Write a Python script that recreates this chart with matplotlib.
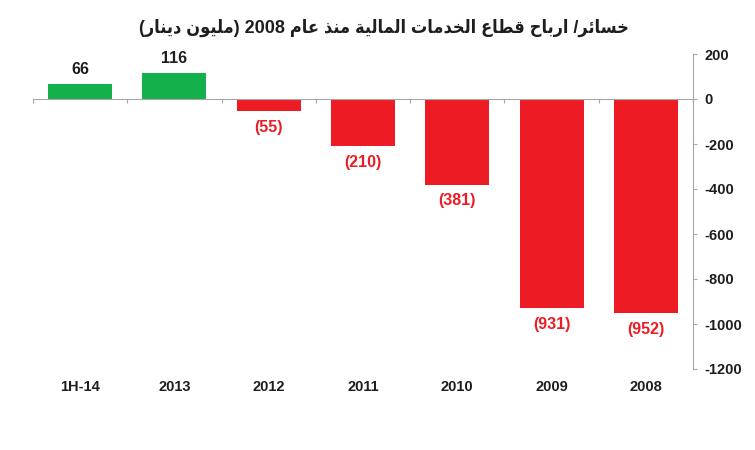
import matplotlib
matplotlib.use('Agg')
import matplotlib.pyplot as plt
import matplotlib.transforms as mtransforms
import numpy as np

categories = ['1H-14', '2013', '2012', '2011', '2010', '2009', '2008']
values = [66, 116, -55, -210, -381, -931, -952]
yticks = [200, 0, -200, -400, -600, -800, -1000, -1200]
title = 'خسائر/ ارباح قطاع الخدمات المالية منذ عام 2008 (مليون دينار)'

GREEN = '#13b04b'
RED = '#ed1c24'
DARK = '#1e1e1e'

# arabic presentation forms: isolated, final, initial, medial
FORMS = {
    'ا': ('\uFE8D', '\uFE8E', None, None),
    'ب': ('\uFE8F', '\uFE90', '\uFE91', '\uFE92'),
    'ة': ('\uFE93', '\uFE94', None, None),
    'ت': ('\uFE95', '\uFE96', '\uFE97', '\uFE98'),
    'ح': ('\uFEA1', '\uFEA2', '\uFEA3', '\uFEA4'),
    'خ': ('\uFEA5', '\uFEA6', '\uFEA7', '\uFEA8'),
    'د': ('\uFEA9', '\uFEAA', None, None),
    'ذ': ('\uFEAB', '\uFEAC', None, None),
    'ر': ('\uFEAD', '\uFEAE', None, None),
    'س': ('\uFEB1', '\uFEB2', '\uFEB3', '\uFEB4'),
    'ط': ('\uFEC1', '\uFEC2', '\uFEC3', '\uFEC4'),
    'ع': ('\uFEC9', '\uFECA', '\uFECB', '\uFECC'),
    'ق': ('\uFED5', '\uFED6', '\uFED7', '\uFED8'),
    'ل': ('\uFEDD', '\uFEDE', '\uFEDF', '\uFEE0'),
    'م': ('\uFEE1', '\uFEE2', '\uFEE3', '\uFEE4'),
    'ن': ('\uFEE5', '\uFEE6', '\uFEE7', '\uFEE8'),
    'و': ('\uFEED', '\uFEEE', None, None),
    'ي': ('\uFEF1', '\uFEF2', '\uFEF3', '\uFEF4'),
    'ئ': ('\uFE89', '\uFE8A', '\uFE8B', '\uFE8C'),
}
MIRROR = {'(': ')', ')': '('}


def shape(text):
    # contextual forms in logical order
    chars = []
    for i, ch in enumerate(text):
        if ch not in FORMS:
            chars.append(ch)
            continue
        iso, fin, ini, med = FORMS[ch]
        prev = text[i - 1] if i > 0 else ''
        nxt = text[i + 1] if i < len(text) - 1 else ''
        prev_joins = prev in FORMS and FORMS[prev][2] is not None
        next_joins = nxt in FORMS and ini is not None
        if prev_joins and next_joins:
            chars.append(med)
        elif prev_joins:
            chars.append(fin)
        elif next_joins:
            chars.append(ini)
        else:
            chars.append(iso)
    # right-to-left display order, digit runs kept left-to-right
    vis = [MIRROR.get(c, c) for c in reversed(chars)]
    out, digits = '', ''
    for c in vis:
        if c.isdigit():
            digits += c
        else:
            out += digits[::-1] + c
            digits = ''
    return out + digits[::-1]


fig = plt.figure(figsize=(7.55, 4.5), dpi=100)
ax = fig.add_axes([33 / 755, 1 - 369 / 450, 660 / 755, 315 / 450])

x = np.arange(len(categories))
colors = [GREEN if v > 0 else RED for v in values]
ax.bar(x, values, width=0.68, color=colors, zorder=2)

for xi, v in zip(x, values):
    if v > 0:
        ax.annotate(str(v), (xi, v), xytext=(0, 5), textcoords='offset points',
                    ha='center', va='bottom', fontsize=11.5, fontweight='bold',
                    color=DARK, family='Liberation Sans')
    else:
        ax.annotate('(%d)' % -v, (xi, v), xytext=(0, -6), textcoords='offset points',
                    ha='center', va='top', fontsize=11.5, fontweight='bold',
                    color=RED, family='Liberation Sans')

ax.set_xlim(-0.5, len(categories) - 0.5)
ax.set_ylim(-1200, 200)

ax.spines['top'].set_visible(False)
ax.spines['left'].set_visible(False)
ax.spines['right'].set_color('#a6a6a6')
ax.spines['bottom'].set_color('#a6a6a6')
ax.spines['bottom'].set_position(('data', 0))

ax.yaxis.tick_right()
ax.set_yticks(yticks)
ax.set_yticklabels([str(t) for t in yticks], fontsize=10.5, fontweight='bold',
                   family='Liberation Sans', color=DARK)
ax.tick_params(axis='y', direction='out', length=3, color='#a6a6a6', pad=5)

ax.set_xticks(np.arange(-0.5, len(categories), 1.0))
ax.set_xticklabels([])
ax.tick_params(axis='x', direction='out', length=3, color='#a6a6a6')

trans = mtransforms.blended_transform_factory(ax.transData, ax.transAxes)
for xi, c in zip(x, categories):
    ax.text(xi, -18 / 315, c, transform=trans, ha='center', va='center',
            fontsize=10.5, fontweight='bold', family='Liberation Sans', color=DARK)

fig.text(384 / 755, 1 - 33 / 450, shape(title), ha='center', va='baseline',
         fontsize=13, fontweight='bold', fontstretch='condensed',
         family=['Liberation Sans', 'DejaVu Sans'], color=DARK)

fig.savefig('out.png', dpi=100)
